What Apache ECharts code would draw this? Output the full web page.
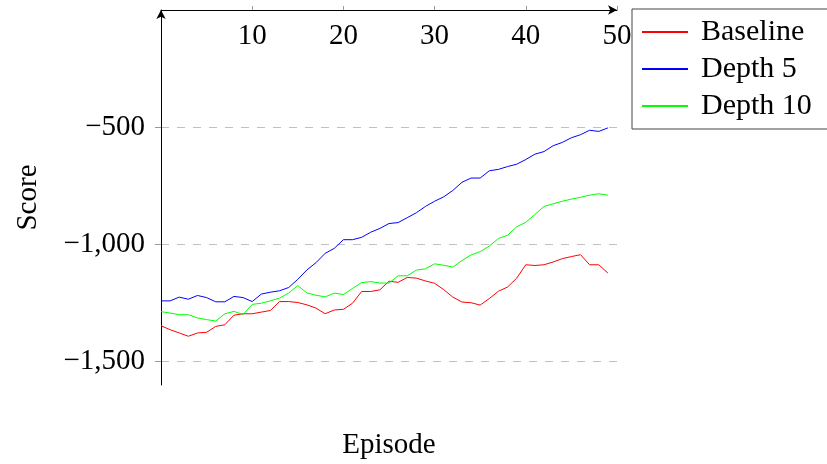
<!DOCTYPE html>
<html>
<head>
<meta charset="utf-8">
<script src="https://cdn.jsdelivr.net/npm/echarts@6/dist/echarts.min.js"></script>
<style>
  html, body { margin: 0; padding: 0; background: #fff; }
  #chart { width: 827px; height: 464px; }
</style>
</head>
<body>
<div id="chart"></div>
<script>
// episode numbers (x axis)
const episodes = [0, 1, 2, 3, 4, 5, 6, 7, 8, 9, 10, 11, 12, 13, 14, 15, 16, 17, 18, 19,
  20, 21, 22, 23, 24, 25, 26, 27, 28, 29, 30, 31, 32, 33, 34, 35, 36, 37, 38, 39,
  40, 41, 42, 43, 44, 45, 46, 47, 48, 49];

// scores
const baseline = [-1347, -1364, -1378, -1392, -1378, -1375, -1350, -1343, -1302, -1296,
  -1296, -1289, -1282, -1244, -1244, -1248, -1258, -1272, -1296, -1280,
  -1277, -1251, -1201, -1201, -1194, -1157, -1162, -1141, -1144, -1156,
  -1166, -1193, -1225, -1246, -1249, -1259, -1231, -1200, -1182, -1144,
  -1087, -1090, -1087, -1075, -1061, -1052, -1044, -1087, -1087, -1122];
const depth5 = [-1241, -1241, -1225, -1234, -1218, -1227, -1245, -1245, -1222, -1227,
  -1244, -1212, -1204, -1198, -1184, -1149, -1109, -1078, -1038, -1017,
  -980, -980, -970, -948, -932, -911, -907, -886, -865, -838,
  -816, -797, -770, -735, -717, -717, -686, -680, -668, -658,
  -638, -615, -604, -579, -565, -545, -532, -513, -518, -503];
const depth10 = [-1287, -1293, -1300, -1300, -1314, -1321, -1327, -1296, -1286, -1299,
  -1256, -1251, -1241, -1229, -1208, -1176, -1207, -1217, -1224, -1208,
  -1214, -1188, -1163, -1159, -1165, -1165, -1134, -1134, -1110, -1104,
  -1083, -1089, -1097, -1069, -1045, -1031, -1007, -975, -961, -925,
  -906, -872, -838, -827, -816, -807, -799, -790, -784, -790];

const seriesNames = ['Baseline', 'Depth 5', 'Depth 10'];
const seriesColors = ['#ff0000', '#0000ff', '#00ff00'];
const yTicks = [-1500, -1000, -500];

const FONT = '"Liberation Serif", "DejaVu Serif", serif';

function pairs(vals) {
  return vals.map((v, i) => [episodes[i], v]);
}

function fmtY(v) {
  const s = Math.abs(v).toString().replace(/\B(?=(\d{3})+(?!\d))/g, ',');
  return (v < 0 ? '\u2212' : '') + s;
}

const chart = echarts.init(document.getElementById('chart'));

const option = {
  animation: false,
  grid: { left: 161, right: 210, top: 10, bottom: 79, containLabel: false },
  xAxis: {
    type: 'value',
    position: 'top',
    min: 0,
    max: 50,
    interval: 10,
    axisLine: {
      show: true,
      lineStyle: { color: '#000', width: 1 },
      symbol: ['none', 'arrow'],
      symbolSize: [7, 9]
    },
    axisTick: { show: true, inside: false, length: 4, lineStyle: { color: '#999' } },
    axisLabel: {
      inside: true,
      margin: 12,
      showMinLabel: false,
      color: '#000',
      fontFamily: FONT,
      fontSize: 29
    },
    splitLine: { show: false }
  },
  yAxis: {
    type: 'value',
    min: -1600,
    max: 0,
    axisLine: {
      show: true,
      onZero: false,
      lineStyle: { color: '#000', width: 1 },
      symbol: ['none', 'arrow'],
      symbolSize: [7, 9]
    },
    axisTick: {
      show: true,
      length: 6,
      customValues: yTicks,
      lineStyle: { color: '#999' }
    },
    axisLabel: {
      customValues: yTicks,
      margin: 16,
      color: '#000',
      fontFamily: FONT,
      fontSize: 29,
      formatter: fmtY
    },
    splitLine: {
      show: true,
      lineStyle: { color: '#c0c0c0', type: [8, 8], width: 1 }
    },
    name: 'Score',
    nameLocation: 'middle',
    nameGap: 118,
    nameTextStyle: { color: '#000', fontFamily: FONT, fontSize: 29 }
  },
  legend: {
    orient: 'vertical',
    left: 632,
    top: 9,
    padding: [8, 60, 8, 9],
    itemWidth: 46,
    itemHeight: 14,
    itemGap: 7,
    borderColor: '#444',
    borderWidth: 1,
    borderRadius: 0,
    itemStyle: { opacity: 0 },
    textStyle: {
      color: '#000',
      fontFamily: FONT,
      fontSize: 30,
      lineHeight: 30,
      padding: [0, 0, 0, 8]
    },
    data: seriesNames
  },
  graphic: [{
    type: 'text',
    x: 389,
    y: 445,
    style: {
      text: 'Episode',
      fill: '#000',
      font: '29px ' + FONT,
      textAlign: 'center',
      textVerticalAlign: 'middle'
    }
  }],
  series: [baseline, depth5, depth10].map((vals, k) => ({
    name: seriesNames[k],
    type: 'line',
    data: pairs(vals),
    symbol: 'none',
    lineStyle: { color: seriesColors[k], width: 1 },
    itemStyle: { color: seriesColors[k] }
  }))
};

chart.setOption(option);
</script>
</body>
</html>
